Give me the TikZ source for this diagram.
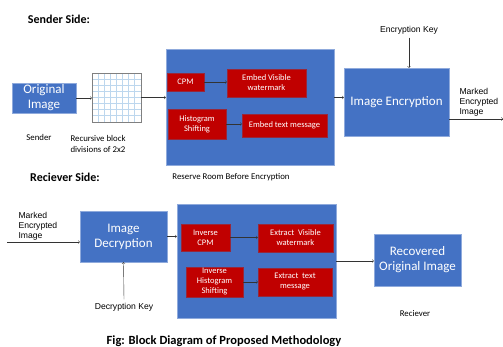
\documentclass[tikz,border=0pt]{standalone}
\usepackage{fontspec}
\setmainfont{Carlito}
\newfontfamily\arialfont{Liberation Sans}
\usepackage{tikz}
\usetikzlibrary{arrows,positioning,calc}
\usepackage{xcolor}
\definecolor{officeblue}{RGB}{68,114,196}
\definecolor{blueedge}{RGB}{143,170,220}
\definecolor{darkred}{RGB}{192,0,0}
\definecolor{rededge}{RGB}{150,40,60}
\definecolor{gridblue}{RGB}{189,215,238}
\tikzset{
    block/.style={
        rectangle,
        draw,
        inner sep=1pt,
        align=center,
        text=white
    },
    bluebox/.style={
        block,
        draw=blueedge,
        fill=officeblue,
        font=\fontsize{13}{15}\selectfont
    },
    redbox/.style={
        block,
        draw=rededge,
        fill=darkred,
        font=\fontsize{8.5}{10}\selectfont
    },
    reserve/.style={
        block,
        draw=blueedge,
        fill=officeblue
    },
    heading/.style={
        font=\fontsize{12}{14}\selectfont\bfseries
    },
    caption/.style={
        font=\fontsize{8.8}{10.5}\selectfont,
        align=left
    },
    keytext/.style={
        font=\fontsize{8.6}{10}\selectfont\arialfont,
        align=left
    },
    flow/.style={
        ->,
        >=to,
        thin,
        black!80
    }
}

\begin{document}
\begin{tikzpicture}[x=1pt,y=-1pt]
    \useasboundingbox (0,0) rectangle (503,347);

    % Sender side
    \node[heading] at (59,19) {Sender Side:};
    \node[bluebox, minimum width=64pt, minimum height=30pt] (orig) at (44,98) {Original\\Image};
    \node[draw=gray, minimum size=49pt, inner sep=0pt] (grid) at (116.5,97.5) {};
    \foreach \i in {1,...,7} {
        \draw[gridblue] ($(grid.north west)+(\i*6.125,0)$) -- ($(grid.south west)+(\i*6.125,0)$);
        \draw[gridblue] ($(grid.north west)+(0,\i*6.125)$) -- ($(grid.north east)+(0,\i*6.125)$);
    }
    \node[draw=gray, minimum size=49pt, inner sep=0pt] at (grid) {};
    \node[caption] (sender) at (39,137) {Sender};
    \node[caption, anchor=north west] (recblock) at (67,132) {Recursive block\\divisions of 2x2};

    \node[reserve, minimum width=168pt, minimum height=116pt] (rrbe) at (250,107) {};
    \node[redbox, minimum width=37pt, minimum height=18pt] (cpm) at (185.5,82) {CPM};
    \node[redbox, minimum width=79pt, minimum height=28pt] (embvis) at (266.5,83) {Embed Visible\\watermark};
    \node[redbox, minimum width=58pt, minimum height=30pt] (hist) at (197,124) {Histogram\\Shifting};
    \node[redbox, minimum width=85pt, minimum height=23pt] (embtxt) at (284.5,125.5) {Embed text message};
    \node[caption] (rrbetext) at (231,177) {Reserve Room Before Encryption};

    \node[bluebox, minimum width=105pt, minimum height=68pt] (enc) at (396.5,102) {Image Encryption};
    \node[keytext] (enckey) at (409,30) {Encryption Key};
    \node[keytext, anchor=north west] (markedout) at (456,85) {Marked\\Encrypted\\Image};
    \coordinate (sendout) at (503,119);

    \draw[flow] (orig) -- (orig -| grid.west);
    \draw[flow] (grid) -- (grid -| rrbe.west);
    \draw[flow] (cpm) -- (cpm -| embvis.west);
    \draw[flow] (hist) -- (hist -| embtxt.west);
    \draw[flow] (rrbe.east |- grid) -- (enc.west |- grid);
    \draw[flow] (enckey.south) -- (enc.north -| enckey.south);
    \draw[flow] (enc.east |- sendout) -- (sendout);

    % Receiver side
    \node[heading] at (65,177) {Reciever Side:};
    \node[keytext, anchor=north west] (markedin) at (15,209) {Marked\\Encrypted\\Image};
    \coordinate (recin) at (7,242);
    \node[bluebox, minimum width=87pt, minimum height=51pt] (dec) at (123.5,236.5) {Image\\Decryption};
    \node[keytext] (deckey) at (124,307) {Decryption Key};

    \node[reserve, minimum width=159pt, minimum height=114pt] (rrbd) at (256.5,261) {};
    \node[redbox, minimum width=49pt, minimum height=27pt] (icpm) at (205.5,237.5) {Inverse\\CPM};
    \node[redbox, minimum width=75pt, minimum height=28pt] (exvis) at (295.5,238) {Extract\ \ Visible\\watermark};
    \node[redbox, minimum width=57pt, minimum height=30pt] (ihist) at (214.5,282) {Inverse\\Histogram\\Shifting};
    \node[redbox, minimum width=74pt, minimum height=28pt] (extxt) at (295,282) {Extract\ \ text\\message};

    \node[bluebox, minimum width=87pt, minimum height=52pt] (rec) at (417.5,260) {Recovered\\Original Image};
    \node[caption] (reciever) at (415,314) {Reciever};

    \draw[flow] (recin) -- (dec.west |- recin);
    \draw[flow] (deckey.north) -- (dec.south);
    \draw[flow] (dec) -- (dec -| rrbd.west);
    \draw[flow] (icpm) -- (icpm -| exvis.west);
    \draw[flow] (ihist) -- (ihist -| extxt.west);
    \draw[flow] (rrbd.east) -- (rrbd.east -| rec.west);

    \node[font=\fontsize{12.5}{14}\selectfont\bfseries] at (224,341) {Fig: Block Diagram of Proposed Methodology};
\end{tikzpicture}
\end{document}
